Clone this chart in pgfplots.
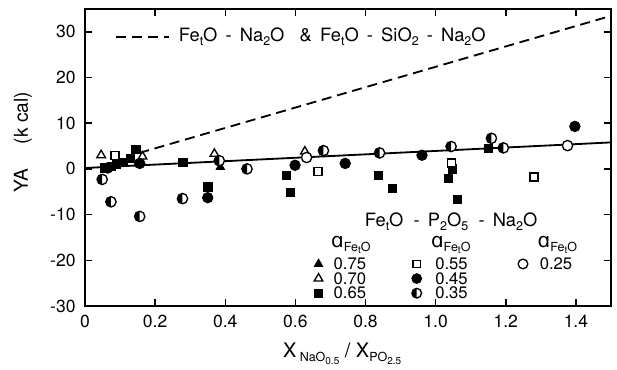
\documentclass[border=0pt]{standalone}
\usepackage{fontspec}
\setmainfont{TeX Gyre Heros}
\newfontfamily\dejavu{DejaVu Sans}
\usepackage{pgfplots}
\pgfplotsset{compat=1.18}
\newcommand{\sub}[1]{\raisebox{-0.45ex}{\fontsize{7.5}{8}\selectfont #1}}
\newcommand{\ssub}[1]{\raisebox{-0.35ex}{\fontsize{6}{7}\selectfont #1}}
\newcommand{\aFe}{{\dejavu\fontsize{12}{13}\selectfont ɑ}\sub{Fe\ssub{t}O}}
\makeatletter
\pgfdeclareplotmark{halfcircle}{%
  \pgfpathcircle{\pgfpoint{0pt}{0pt}}{\pgfplotmarksize}%
  \pgfsetfillcolor{white}\pgfusepathqfillstroke
  \pgfsetfillcolor{black}%
  \pgfpathmoveto{\pgfpoint{0pt}{\pgfplotmarksize}}%
  \pgfpatharc{90}{270}{\pgfplotmarksize}%
  \pgfpathclose\pgfusepathqfill}
\makeatother
\begin{document}
\fontsize{10.5}{12}\selectfont
\begin{tikzpicture}
\begin{axis}[
  scale only axis, width=315.6pt, height=178.2pt,
  xmin=0, xmax=1.5, ymin=-30, ymax=35,
  xtick={0,0.2,...,1.4},
  xticklabels={0,0.2,0.4,0.6,0.8,1.0,1.2,1.4},
  ytick={-30,-20,...,30},
  tick align=inside,
  major tick length=4pt,
  axis line style={line width=1.1pt},
  every tick/.style={black, line width=0.9pt},
  /pgf/number format/assume math mode=true,
  ticklabel style={font=\fontsize{10.5}{12}\selectfont},
  yticklabel style={xshift=-2pt},
  xticklabel style={yshift=-2pt},
  clip=false,
  ylabel={YA\quad\ (k cal)},
  ylabel style={at={(axis description cs:-0.118,0.552)}, anchor=center, font=\fontsize{11.5}{13}\selectfont},
  xlabel={\fontsize{12}{13}\selectfont X\,\sub{NaO\ssub{0.5}} / X\sub{PO\ssub{2.5}}},
  xlabel style={at={(axis description cs:0.489,-0.16)}, anchor=center},
]
% lines
\addplot[black, line width=1.1pt] coordinates {(0,0.2) (1.5,5.8)};
\addplot[black, line width=1.1pt, dash pattern=on 6pt off 3.5pt] coordinates {(0.155,3.5) (1.5,33.5)};
% 0.65 filled squares
\addplot[only marks, mark=square*, mark size=2.5pt, black] coordinates {
(0.055,0.2) (0.075,0.5) (0.09,1.0) (0.11,1.5) (0.13,2.3) (0.145,4.3)
(0.279,1.5) (0.350,-3.9) (0.574,-1.4) (0.585,-5.1) (0.837,-1.4) (0.877,-4.3)
(1.036,-2.0) (1.047,0) (1.061,-6.7) (1.151,4.5)};
% 0.75 filled triangles
\addplot[only marks, mark=triangle*, mark size=3pt, black] coordinates {(0.386,0.4)};
% 0.70 open triangles
\addplot[only marks, mark=triangle*, mark size=3pt, black, mark options={fill=white, line width=0.8pt}] coordinates {
(0.046,3.0) (0.164,2.7) (0.369,3.3) (0.627,3.8)};
% 0.55 open squares
\addplot[only marks, mark=square*, mark size=2.4pt, black, mark options={fill=white, line width=0.8pt}] coordinates {
(0.086,2.9) (0.664,-0.5) (1.045,1.3) (1.28,-1.8)};
% 0.45 filled circles
\addplot[only marks, mark=*, mark size=3.2pt, black] coordinates {
(0.065,0.2) (0.156,1.2) (0.350,-6.3) (0.599,0.8) (0.742,1.2) (0.961,3.0) (1.397,9.3)};
% 0.35 half circles
\addplot[only marks, mark=halfcircle, mark size=3.1pt, black, mark options={line width=0.8pt}] coordinates {
(0.049,-2.3) (0.074,-7.2) (0.156,-10.4) (0.278,-6.5) (0.383,1.8) (0.462,0)
(0.680,4.0) (0.840,3.5) (1.044,4.9) (1.159,6.7) (1.193,4.6)};
% 0.25 open circles
\addplot[only marks, mark=*, mark size=3.1pt, black, mark options={fill=white, line width=0.8pt}] coordinates {
(0.632,2.5) (1.376,5.1)};
% legend dashed sample
\addplot[black, line width=1.1pt, dash pattern=on 6pt off 3.5pt] coordinates {(0.089,28.9) (0.24,28.9)};
\node[anchor=west, font=\fontsize{11}{12}\selectfont] at (axis cs:0.25,28.9) {Fe\sub{t}O \,-\, Na\sub{2}O \ \ \& \,Fe\sub{t}O \,-\, SiO\sub{2} \,-\, Na\sub{2}O};
% legend block
\node[anchor=center, font=\fontsize{11}{12}\selectfont] at (axis cs:1.044,-11.6) {Fe\sub{t}O \ - \,P\sub{2}O\sub{5} \ - \,Na\sub{2}O};
\node[anchor=center, inner sep=0pt] at (axis cs:0.758,-16.6) {\aFe};
\node[anchor=center, inner sep=0pt] at (axis cs:1.043,-16.6) {\aFe};
\node[anchor=center, inner sep=0pt] at (axis cs:1.347,-16.6) {\aFe};
\addplot[only marks, mark=triangle*, mark size=3pt, black] coordinates {(0.666,-20.8)};
\addplot[only marks, mark=triangle*, mark size=3pt, black, mark options={fill=white, line width=0.8pt}] coordinates {(0.666,-24.0)};
\addplot[only marks, mark=square*, mark size=2.5pt, black] coordinates {(0.666,-27.2)};
\addplot[only marks, mark=square*, mark size=2.2pt, black, mark options={fill=white, line width=0.8pt}] coordinates {(0.946,-20.8)};
\addplot[only marks, mark=*, mark size=3pt, black] coordinates {(0.946,-24.0)};
\addplot[only marks, mark=halfcircle, mark size=2.9pt, black, mark options={line width=0.8pt}] coordinates {(0.946,-27.2)};
\addplot[only marks, mark=*, mark size=2.9pt, black, mark options={fill=white, line width=0.8pt}] coordinates {(1.249,-20.8)};
\begin{scope}[every node/.style={anchor=west, inner sep=0pt, font=\fontsize{10}{11}\selectfont}]
\node at (axis cs:0.708,-20.8) {0.75};
\node at (axis cs:0.708,-24.0) {0.70};
\node at (axis cs:0.708,-27.2) {0.65};
\node at (axis cs:0.998,-20.8) {0.55};
\node at (axis cs:0.998,-24.0) {0.45};
\node at (axis cs:0.998,-27.2) {0.35};
\node at (axis cs:1.296,-20.8) {0.25};
\end{scope}
\end{axis}
\pgfresetboundingbox
\path ([shift={(-51pt,-38.4pt)}]current axis.south west) rectangle ([shift={(3.6pt,5.4pt)}]current axis.north east);
\end{tikzpicture}
\end{document}
